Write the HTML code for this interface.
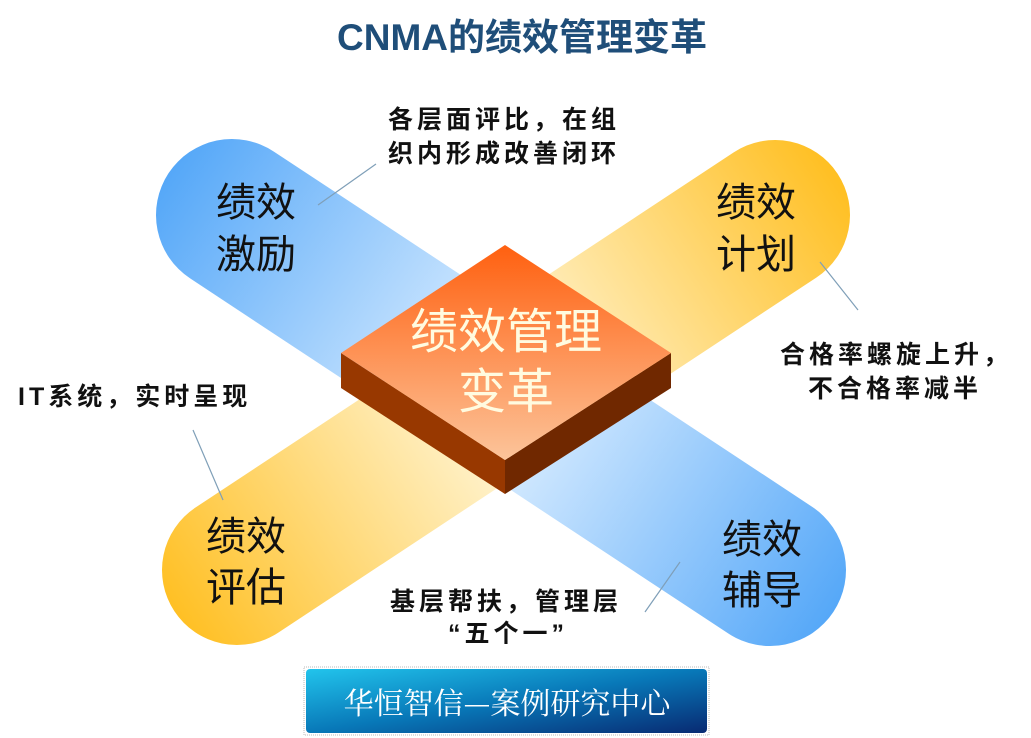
<!DOCTYPE html>
<html><head><meta charset="utf-8"><style>
body{margin:0;width:1031px;height:738px;background:#fff;overflow:hidden;font-family:"Liberation Sans","Noto Sans CJK SC",sans-serif}
svg{position:absolute;left:0;top:0}
</style></head><body>
<svg width="1031" height="738" viewBox="0 0 1031 738">
<defs>
<linearGradient id="bl" gradientUnits="userSpaceOnUse" x1="160" y1="170" x2="840" y2="620">
<stop offset="0" stop-color="#52a6f8"/><stop offset="0.45" stop-color="#d6ebff"/><stop offset="0.55" stop-color="#d6ebff"/><stop offset="1" stop-color="#52a6f8"/></linearGradient>
<linearGradient id="yl" gradientUnits="userSpaceOnUse" x1="845" y1="170" x2="165" y2="620">
<stop offset="0" stop-color="#ffbe1e"/><stop offset="0.45" stop-color="#fff3cf"/><stop offset="0.55" stop-color="#fff3cf"/><stop offset="1" stop-color="#ffbe1e"/></linearGradient>
<linearGradient id="tp" x1="0" y1="0" x2="0" y2="1"><stop offset="0" stop-color="#ff6010"/><stop offset="1" stop-color="#fcc49a"/></linearGradient>
<linearGradient id="bn" x1="0" y1="0" x2="1" y2="1"><stop offset="0" stop-color="#22c4ec"/><stop offset="0.5" stop-color="#0878b8"/><stop offset="1" stop-color="#082a72"/></linearGradient>
</defs>
<line x1="232" y1="215" x2="770" y2="570" stroke="url(#bl)" stroke-width="152" stroke-linecap="round"/>
<line x1="775" y1="215" x2="237" y2="570" stroke="url(#yl)" stroke-width="150" stroke-linecap="round"/>
<polygon points="341,353 505,460 505,494 341,388" fill="#983800"/>
<polygon points="671,353 505,460 505,494 671,388" fill="#702800"/>
<polygon points="505,245 671,353 505,460 341,353" fill="url(#tp)"/>
<g stroke="#7f9fb8" stroke-width="1.2">
<line x1="318" y1="205" x2="376" y2="164"/><line x1="820" y1="262" x2="858" y2="310"/>
<line x1="193" y1="430" x2="223" y2="500"/><line x1="645" y1="612" x2="680" y2="562"/></g>
<rect x="304" y="667" width="405" height="68" fill="none" stroke="#bbb" stroke-dasharray="1,1"/>
<rect x="306" y="669" width="401" height="64" rx="4" fill="url(#bn)"/>
<g font-family="Liberation Sans,Noto Sans CJK SC,sans-serif">
<text x="522" y="50" text-anchor="middle" font-size="37" font-weight="bold" fill="#1f4e79">CNMA的绩效管理变革</text>
<g font-size="40" fill="#111">
<text x="216" y="216">绩效</text><text x="216" y="268">激励</text>
<text x="716" y="216">绩效</text><text x="716" y="268">计划</text>
<text x="206" y="550">绩效</text><text x="206" y="601">评估</text>
<text x="722" y="553">绩效</text><text x="722" y="604">辅导</text>
</g>
<g font-size="25" font-weight="bold" fill="#111" letter-spacing="4">
<text x="388" y="128">各层面评比，在组</text><text x="388" y="162">织内形成改善闭环</text>
<text x="780" y="363">合格率螺旋上升，</text><text x="808" y="397">不合格率减半</text>
<text x="18" y="405">IT系统，实时呈现</text>
<text x="390" y="610">基层帮扶，管理层</text><text x="448" y="642">“五个一”</text>
</g>
<g font-size="48" fill="#fffbe0" text-anchor="middle">
<text x="506" y="348">绩效管理</text><text x="506" y="408">变革</text></g>
<text x="507" y="714" text-anchor="middle" font-size="30" fill="#fff" font-family="Noto Serif CJK SC,serif">华恒智信—案例研究中心</text>
</g>
</svg>
</body></html>
